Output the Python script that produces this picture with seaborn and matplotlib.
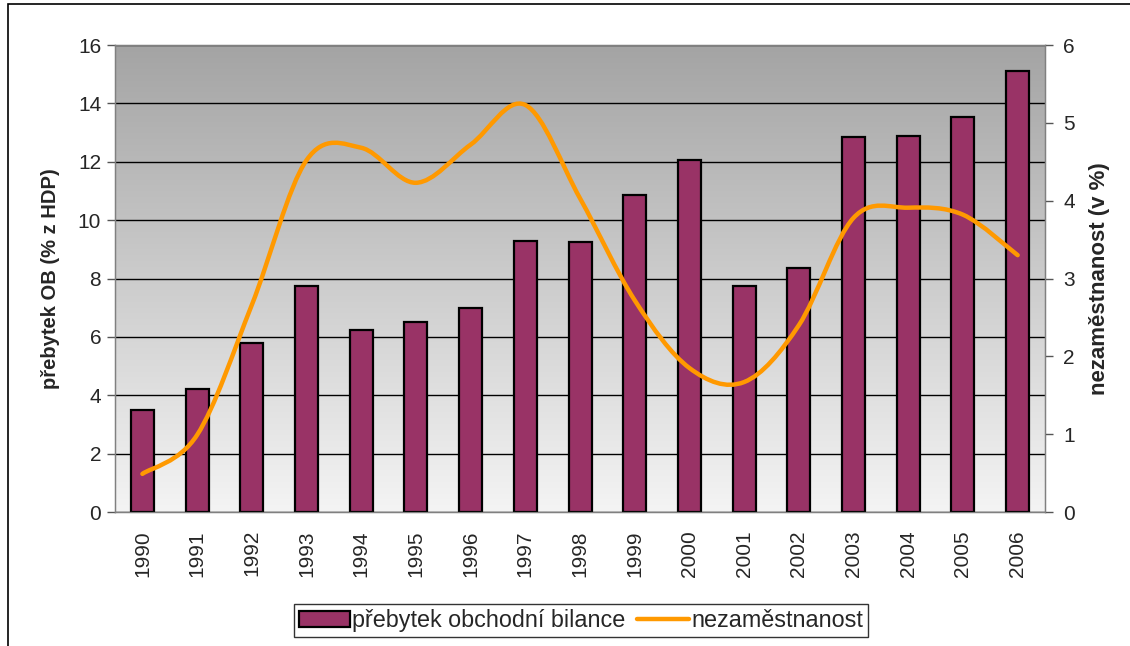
import numpy as np
import pandas as pd
import matplotlib
matplotlib.use('Agg')
import matplotlib.pyplot as plt
from matplotlib.path import Path
from matplotlib.patches import PathPatch, Patch, Rectangle
from matplotlib.lines import Line2D
import seaborn as sns

# data
years = ['1990', '1991', '1992', '1993', '1994', '1995', '1996', '1997', '1998',
         '1999', '2000', '2001', '2002', '2003', '2004', '2005', '2006']
surplus = [3.5, 4.2, 5.8, 7.75, 6.25, 6.5, 7.0, 9.3, 9.25,
           10.85, 12.05, 7.75, 8.35, 12.85, 12.9, 13.55, 15.1]
unemployment = [0.49, 0.99, 2.66, 4.52, 4.68, 4.23, 4.72, 5.23, 4.03,
                2.72, 1.85, 1.67, 2.40, 3.78, 3.91, 3.82, 3.30]
left_ticks = [0, 2, 4, 6, 8, 10, 12, 14, 16]
right_ticks = [0, 1, 2, 3, 4, 5, 6]

bar_color = '#993366'
line_color = '#FF9900'
fs = 15

sns.set_style('white')
plt.rcParams['font.family'] = ['Liberation Sans', 'DejaVu Sans']

df = pd.DataFrame({'rok': years, 'prebytek': surplus})

fig = plt.figure(figsize=(11.3, 6.46), dpi=100)
fig.subplots_adjust(left=0.1018, right=0.9248, top=0.9303, bottom=0.2074)
ax = fig.add_subplot(111)

# gradient background of the plot area
grad = np.linspace(0, 1, 256).reshape(-1, 1)
cmap = matplotlib.colors.LinearSegmentedColormap.from_list('bg', ['#f4f4f4', '#a4a4a4'])
ax.imshow(grad, aspect='auto', cmap=cmap, origin='lower',
          extent=[0, 1, 0, 1], transform=ax.transAxes, zorder=0)

sns.barplot(data=df, x='rok', y='prebytek', color=bar_color, saturation=1,
            width=0.42, edgecolor='black', linewidth=1.6, ax=ax, zorder=3)

ax.set_xlim(-0.5, len(years) - 0.5)
ax.set_ylim(0, 16)
ax.set_yticks(left_ticks)
ax.yaxis.grid(True, color='black', linewidth=1)
ax.set_axisbelow(True)
for t in ax.get_ygridlines():
    t.set_zorder(1)

ax.set_xticks(range(len(years)), years, rotation=90, fontsize=fs)
ax.set_xticks(np.arange(-0.5, len(years)), minor=True)
ax.tick_params(axis='x', which='major', length=0, pad=13)
ax.tick_params(axis='x', which='minor', length=6, width=1, color='#555555', direction='out')
ax.tick_params(axis='y', length=6, width=1, color='#555555', direction='out',
               labelsize=fs, left=True, pad=4)
ax.set_xlabel('')
ax.set_ylabel('přebytek OB (% z HDP)', fontsize=14.5, fontweight='bold', labelpad=13)

for s in ax.spines.values():
    s.set_color('#808080')
    s.set_linewidth(1)

# unemployment on the secondary axis, smoothed like the spreadsheet line
ax2 = ax.twinx()
ax2.set_ylim(0, 6)
ax2.set_yticks(right_ticks)
ax2.tick_params(axis='y', length=6, width=1, color='#555555', direction='out',
                labelsize=fs, pad=7)
ax2.set_ylabel('nezaměstnanost (v %)', fontsize=16, fontweight='bold', labelpad=10)
for s in ax2.spines.values():
    s.set_color('#808080')

# bezier segments through the data points (catmull-rom control points)
pts = np.column_stack([np.arange(len(unemployment)), np.array(unemployment, dtype=float)])
verts = [tuple(pts[0])]
codes = [Path.MOVETO]
n = len(pts)
for i in range(n - 1):
    p0 = pts[max(i - 1, 0)]
    p1 = pts[i]
    p2 = pts[i + 1]
    p3 = pts[min(i + 2, n - 1)]
    c1 = p1 + (p2 - p0) / 6.0
    c2 = p2 - (p3 - p1) / 6.0
    verts += [tuple(c1), tuple(c2), tuple(p2)]
    codes += [Path.CURVE4, Path.CURVE4, Path.CURVE4]
curve = PathPatch(Path(verts, codes), facecolor='none', edgecolor=line_color,
                  linewidth=3.2, capstyle='round', joinstyle='round', zorder=5)
ax2.add_patch(curve)

# legend
handles = [Patch(facecolor=bar_color, edgecolor='black', linewidth=1.6),
           Line2D([], [], color=line_color, linewidth=3.2)]
leg = fig.legend(handles, ['přebytek obchodní bilance', 'nezaměstnanost'],
                 loc='center', bbox_to_anchor=(0.514, 0.0395), ncol=2, fontsize=16.8,
                 frameon=True, fancybox=False, handlelength=2.2, handleheight=0.7,
                 handletextpad=0.1, columnspacing=0.5, borderpad=0.2, borderaxespad=0)
leg.get_frame().set_edgecolor('black')
leg.get_frame().set_linewidth(1)

# outer chart border
fig.patches.append(Rectangle((8 / 1130, -0.05), 1.2, 1 - 4 / 646 + 0.05,
                             transform=fig.transFigure, fill=False,
                             edgecolor='black', linewidth=1.2))

fig.savefig('out.png', dpi=100)
